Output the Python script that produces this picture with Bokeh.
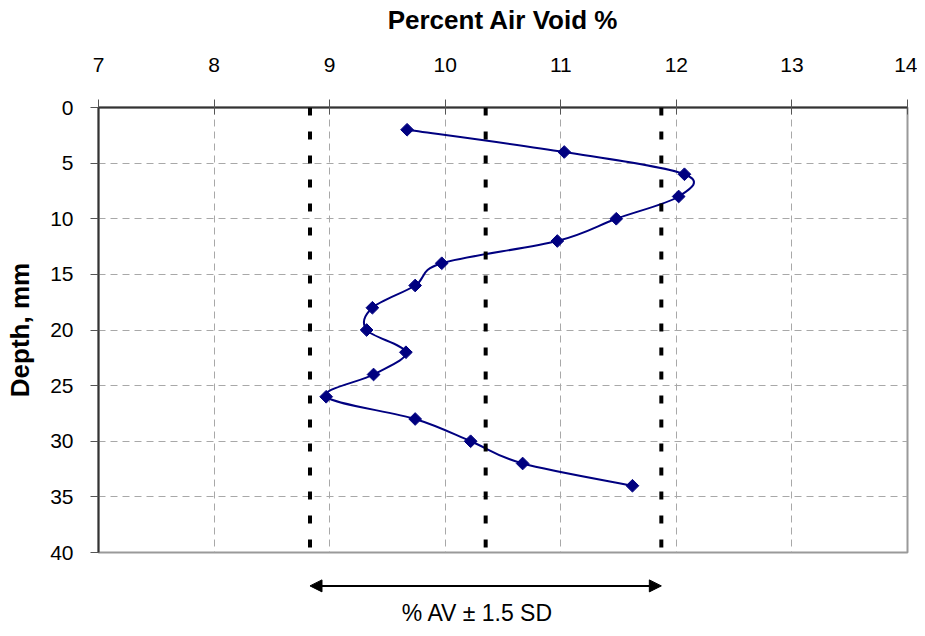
import numpy as np
from bokeh.plotting import figure
from bokeh.layouts import column
from bokeh.models import Range1d, FixedTicker, Arrow, NormalHead, Label, Span
from bokeh.embed import file_html
from bokeh.resources import INLINE

# ---- data ----
depth = [2, 4, 6, 8, 10, 12, 14, 16, 18, 20, 22, 24, 26, 28, 30, 32, 34]
air_void = [9.67, 11.03, 12.07, 12.02, 11.48, 10.97, 9.97, 9.74, 9.37,
            9.32, 9.66, 9.38, 8.97, 9.74, 10.22, 10.67, 11.62]
lower_av = 8.83
mean_av = 10.35
upper_av = 11.87
x_ticks = [7, 8, 9, 10, 11, 12, 13, 14]
y_ticks = [0, 5, 10, 15, 20, 25, 30, 35, 40]
band_label = "% AV ± 1.5 SD"
arrow_depth = 43.0
label_depth = 45.45

FONT = "Liberation Sans"
NAVY = "#000080"

W = 917
LEFT = 98
RIGHT = 10
TOP = 107
FRAME_H = 445
BOTTOM = 14
MAIN_H = TOP + FRAME_H + BOTTOM
SUB_H = 628 - MAIN_H

p = figure(width=W, height=MAIN_H,
           x_range=Range1d(7, 14), y_range=Range1d(40, 0),
           x_axis_location="above",
           output_backend="svg", toolbar_location=None,
           min_border_left=LEFT, min_border_right=RIGHT,
           min_border_top=TOP, min_border_bottom=BOTTOM)

p.background_fill_color = "white"
p.border_fill_color = "white"
p.outline_line_color = "#9a9a9a"
p.outline_line_width = 2

# axes
xa = p.xaxis[0]
xa.ticker = FixedTicker(ticks=x_ticks)
xa.axis_label = "Percent Air Void %"
ya = p.yaxis[0]
ya.ticker = FixedTicker(ticks=y_ticks)
ya.axis_label = "Depth, mm"
for ax in (xa, ya):
    ax.axis_label_text_font = FONT
    ax.axis_label_text_font_style = "bold"
    ax.axis_label_text_font_size = "26px"
    ax.axis_label_text_color = "black"
    ax.major_label_text_font = FONT
    ax.major_label_text_font_size = "21px"
    ax.major_label_text_color = "black"
    ax.axis_line_color = "#333333"
    ax.axis_line_width = 2
    ax.major_tick_line_color = "#555555"
    ax.major_tick_line_width = 1
    ax.minor_tick_line_color = None
    ax.major_tick_out = 8
xa.major_tick_in = 7
ya.major_tick_in = 0
xa.major_label_standoff = 28
xa.axis_label_standoff = 20
ya.major_label_standoff = 17
ya.axis_label_standoff = 12

# grid
for g in (p.xgrid[0], p.ygrid[0]):
    g.grid_line_color = "#a8a8a8"
    g.grid_line_dash = "7 5"
    g.grid_line_width = 1
p.xgrid[0].ticker = FixedTicker(ticks=x_ticks)
p.ygrid[0].ticker = FixedTicker(ticks=y_ticks)

# reference lines (mean and +/- 1.5 SD)
for xv in (lower_av, mean_av, upper_av):
    p.add_layout(Span(location=xv, dimension="height", line_color="black",
                      line_width=4, line_dash="8 16"))

# smoothed curve (Catmull-Rom style bezier through the points)
xs = np.array(air_void, dtype=float)
ys = np.array(depth, dtype=float)
n = len(xs)
x0, y0, x1, y1, cx0, cy0, cx1, cy1 = [], [], [], [], [], [], [], []
for i in range(n - 1):
    im1 = max(i - 1, 0)
    ip2 = min(i + 2, n - 1)
    x0.append(xs[i]); y0.append(ys[i])
    x1.append(xs[i + 1]); y1.append(ys[i + 1])
    cx0.append(xs[i] + (xs[i + 1] - xs[im1]) / 6.0)
    cy0.append(ys[i] + (ys[i + 1] - ys[im1]) / 6.0)
    cx1.append(xs[i + 1] - (xs[ip2] - xs[i]) / 6.0)
    cy1.append(ys[i + 1] - (ys[ip2] - ys[i]) / 6.0)
p.bezier(x0=x0, y0=y0, x1=x1, y1=y1, cx0=cx0, cy0=cy0, cx1=cx1, cy1=cy1,
         line_color=NAVY, line_width=2)

p.scatter(air_void, depth, marker="square", angle=np.pi / 4, size=9,
          fill_color=NAVY, line_color=NAVY)

# strip below the plot (same x scale, depth continues below 40)
px_per_depth = FRAME_H / 40.0
sub_top = 40 + BOTTOM / px_per_depth
sub_bottom = sub_top + SUB_H / px_per_depth
p2 = figure(width=W, height=SUB_H, x_range=p.x_range,
            y_range=Range1d(sub_bottom, sub_top),
            output_backend="svg", toolbar_location=None,
            x_axis_location=None, y_axis_location=None,
            min_border_left=LEFT, min_border_right=RIGHT,
            min_border_top=0, min_border_bottom=0)
p2.outline_line_color = None
p2.xgrid.visible = False
p2.ygrid.visible = False
p2.add_layout(Arrow(x_start=lower_av, y_start=arrow_depth, x_end=upper_av, y_end=arrow_depth,
                    line_color="black", line_width=2,
                    start=NormalHead(size=12, fill_color="black", line_color="black"),
                    end=NormalHead(size=12, fill_color="black", line_color="black")))
p2.add_layout(Label(x=(lower_av + upper_av) / 2 - 0.07, y=label_depth, text=band_label,
                    text_font=FONT, text_font_size="23px", text_color="black",
                    text_align="center", text_baseline="middle"))

layout = column(p, p2, spacing=0)
open("out.html", "w").write(file_html(layout, INLINE))
